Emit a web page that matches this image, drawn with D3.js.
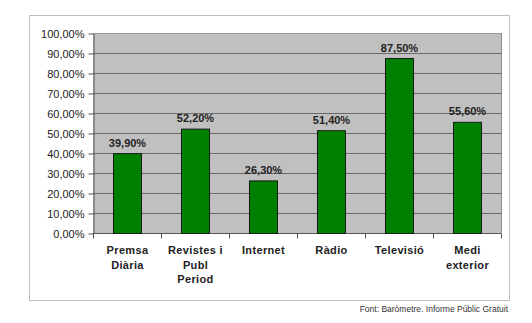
<!DOCTYPE html>
<html>
<head>
<meta charset="utf-8">
<script src="https://cdn.jsdelivr.net/npm/d3@7"></script>
<style>
  body { margin: 0; background: #fff; }
</style>
</head>
<body>
<script>
const categories = [['Premsa', 'Diària'], ['Revistes i', 'Publ', 'Period'], ['Internet'], ['Ràdio'], ['Televisió'], ['Medi', 'exterior']]
const values = [39.9, 52.2, 26.3, 51.4, 87.5, 55.6]
const yTicks = [0, 10, 20, 30, 40, 50, 60, 70, 80, 90, 100]
const source = 'Font: Baròmetre. Informe Públic Gratuit'

const W = 532, H = 323
const plot = { left: 93, right: 501, top: 33, bottom: 233 }

const fmt = (v) => v.toFixed(2).replace('.', ',') + '%'

const svg = d3.create('svg')
  .attr('width', W)
  .attr('height', H)
  .style('font-family', 'Arial, "Liberation Sans", sans-serif')

// outer frame
svg.append('rect')
  .attr('x', 29.5).attr('y', 15.5)
  .attr('width', 480).attr('height', 285)
  .attr('fill', '#fff')
  .attr('stroke', '#bdbdbd')

const x = d3.scaleBand()
  .domain(d3.range(categories.length))
  .range([plot.left, plot.right])
  .paddingInner(0.588)
  .paddingOuter(0.294)

const y = d3.scaleLinear().domain([0, 100]).range([plot.bottom, plot.top])

// plot background
svg.append('rect')
  .attr('x', plot.left).attr('y', plot.top)
  .attr('width', plot.right - plot.left).attr('height', plot.bottom - plot.top)
  .attr('fill', '#c0c0c0')

// gridlines
svg.append('g')
  .selectAll('line')
  .data(yTicks.slice(1))
  .join('line')
  .attr('x1', plot.left).attr('x2', plot.right)
  .attr('y1', (d) => y(d) + 0.5).attr('y2', (d) => y(d) + 0.5)
  .attr('stroke', (d) => (d === 100 ? '#9a9a9a' : '#6a6a6a'))

svg.append('line')
  .attr('x1', plot.right + 0.5).attr('x2', plot.right + 0.5)
  .attr('y1', plot.top).attr('y2', plot.bottom)
  .attr('stroke', '#8a8a8a')

// y axis
const yAxis = svg.append('g')
  .attr('transform', `translate(${plot.left + 0.5},0.5)`)
  .call(d3.axisLeft(y).tickValues(yTicks).tickFormat(fmt).tickSize(5).tickSizeOuter(0).tickPadding(4))
yAxis.select('.domain').attr('stroke', '#555')
yAxis.selectAll('.tick line').attr('stroke', '#555')
yAxis.selectAll('text').attr('font-size', 11).attr('fill', '#222').attr('font-family', 'Arial, "Liberation Sans", sans-serif')

// x axis
const xAxis = svg.append('g')
  .attr('transform', `translate(0,${plot.bottom + 0.5})`)
xAxis.append('line')
  .attr('x1', plot.left).attr('x2', plot.right)
  .attr('stroke', '#555')
xAxis.selectAll('.tk')
  .data(d3.range(categories.length + 1))
  .join('line')
  .attr('x1', (i) => Math.round(plot.left + i * x.step()) + 0.5)
  .attr('x2', (i) => Math.round(plot.left + i * x.step()) + 0.5)
  .attr('y1', 0).attr('y2', 5)
  .attr('stroke', '#555')

// bars
svg.append('g')
  .selectAll('rect')
  .data(values)
  .join('rect')
  .attr('x', (d, i) => x(i) + 0.5)
  .attr('y', (d) => y(d) + 0.5)
  .attr('width', x.bandwidth())
  .attr('height', (d) => y(0) - y(d))
  .attr('fill', '#008000')
  .attr('stroke', '#1a1a1a')

// value labels
svg.append('g')
  .selectAll('text')
  .data(values)
  .join('text')
  .attr('x', (d, i) => x(i) + x.bandwidth() / 2 + 0.5)
  .attr('y', (d) => y(d) - 6.5)
  .attr('text-anchor', 'middle')
  .attr('font-size', 11)
  .attr('font-weight', 'bold')
  .attr('fill', '#222')
  .text(fmt)

// category labels
const cat = svg.append('g')
  .selectAll('text')
  .data(categories)
  .join('text')
  .attr('x', (d, i) => x(i) + x.bandwidth() / 2 + 0.5)
  .attr('y', 254)
  .attr('text-anchor', 'middle')
  .attr('font-size', 11)
  .attr('font-weight', 'bold')
  .attr('letter-spacing', 0.35)
  .attr('fill', '#222')
cat.selectAll('tspan')
  .data((d) => d)
  .join('tspan')
  .attr('x', function () { return this.parentNode.getAttribute('x') })
  .attr('dy', (d, i) => (i === 0 ? 0 : 14.5))
  .text((d) => d)

// source
svg.append('text')
  .attr('x', 508)
  .attr('y', 312)
  .attr('text-anchor', 'end')
  .attr('font-size', 8.5)
  .attr('fill', '#333')
  .text(source)

document.body.appendChild(svg.node())
</script>
</body>
</html>
